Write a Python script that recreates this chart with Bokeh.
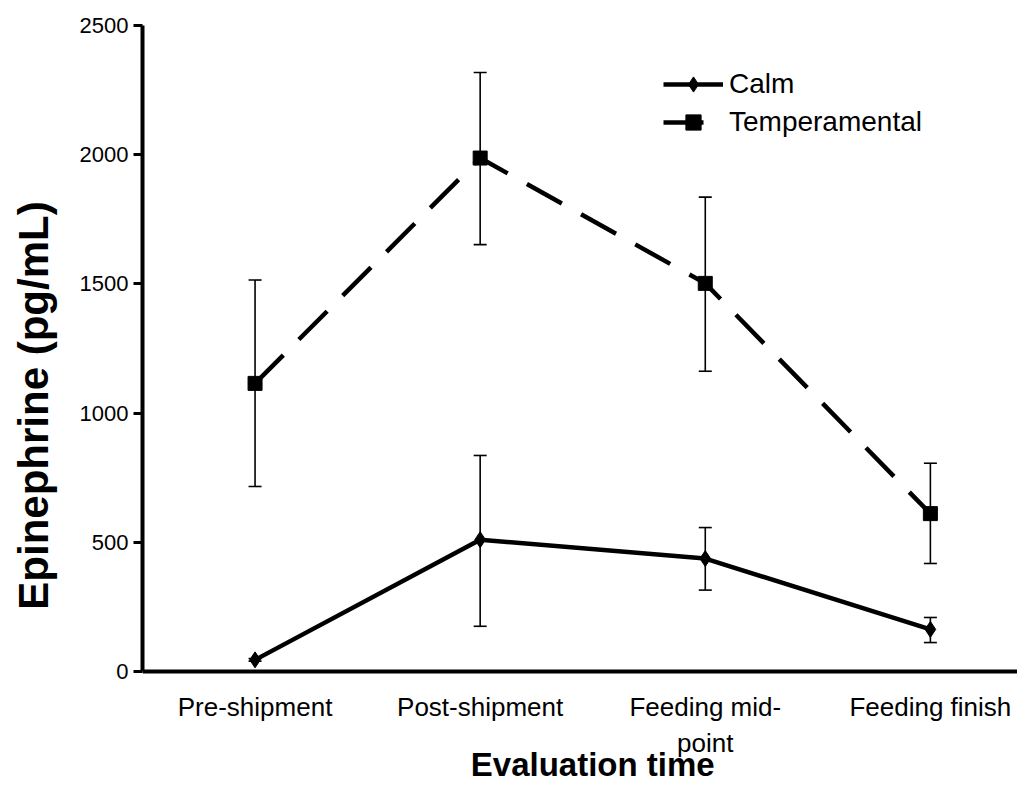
from bokeh.plotting import figure
from bokeh.models import (ColumnDataSource, Whisker, TeeHead, FixedTicker, Legend,
                          LegendItem, Range1d, Label)
from bokeh.embed import file_html
from bokeh.resources import INLINE

categories = ["Pre-shipment", "Post-shipment", "Feeding mid-\npoint", "Feeding finish"]
calm = [45, 510, 437, 163]
calm_lo = [40, 175, 315, 112]
calm_hi = [50, 836, 557, 209]
temp = [1115, 1987, 1502, 611]
temp_lo = [716, 1652, 1162, 418]
temp_hi = [1515, 2318, 1836, 806]
y_ticks = [0, 500, 1000, 1500, 2000, 2500]

xs = list(range(1, len(categories) + 1))
FONT = "Liberation Sans"

# frame: 646 px for 0..2500, extended below 0 to hold the category labels
p = figure(width=1017, height=785, output_backend="svg", toolbar_location=None,
           x_range=Range1d(0.5, 4.387), y_range=Range1d(-441.2, 2500),
           min_border_left=142, min_border_right=0, min_border_top=25,
           min_border_bottom=0)
p.outline_line_color = None
p.grid.visible = False
p.background_fill_color = "white"
p.border_fill_color = "white"

src_c = ColumnDataSource(dict(x=xs, y=calm, lo=calm_lo, hi=calm_hi))
src_t = ColumnDataSource(dict(x=xs, y=temp, lo=temp_lo, hi=temp_hi))

for src in (src_t, src_c):
    w = Whisker(source=src, base="x", lower="lo", upper="hi",
                line_color="black", line_width=1.6,
                lower_head=TeeHead(size=13, line_color="black", line_width=1.6),
                upper_head=TeeHead(size=13, line_color="black", line_width=1.6))
    p.add_layout(w)

lc = p.line("x", "y", source=src_c, line_color="black", line_width=4.5)
mc = p.scatter("x", "y", source=src_c, marker="diamond", size=16, color="black")
lt = p.line("x", "y", source=src_t, line_color="black", line_width=4.5,
            line_dash="40 22")
mt = p.scatter("x", "y", source=src_t, marker="square", size=14, color="black")

legend = Legend(items=[LegendItem(label="Calm", renderers=[lc, mc]),
                       LegendItem(label="Temperamental", renderers=[lt, mt])],
                location=(521, 644), glyph_width=60, glyph_height=38,
                label_standoff=6, spacing=0, padding=0, margin=0,
                border_line_color=None, background_fill_alpha=0,
                label_text_font=FONT, label_text_font_size="28px",
                label_text_color="black", label_text_baseline="middle")
p.add_layout(legend)

# x axis drawn at y = 0
p.xaxis.fixed_location = 0
p.xaxis.ticker = FixedTicker(ticks=xs)
p.xaxis.major_label_overrides = {x: c for x, c in zip(xs, categories)}
p.xaxis.major_tick_line_color = None
p.xaxis.minor_tick_line_color = None
p.xaxis.major_label_standoff = 15
p.xaxis.axis_line_width = 4
p.xaxis.axis_line_color = "black"
p.xaxis.major_label_text_font = FONT
p.xaxis.major_label_text_font_size = "26px"
p.xaxis.major_label_text_color = "black"

# x-axis title, centred on the category span
p.add_layout(Label(x=sum(xs) / len(xs), y=-433, text="Evaluation time",
                   text_align="center", text_baseline="bottom",
                   text_font=FONT, text_font_style="bold",
                   text_font_size="33px", text_color="black"))

p.yaxis.bounds = (0, 2500)
p.yaxis.ticker = FixedTicker(ticks=y_ticks)
p.yaxis.minor_tick_line_color = None
p.yaxis.major_tick_in = 0
p.yaxis.major_tick_out = 9
p.yaxis.major_tick_line_width = 3
p.yaxis.major_tick_line_color = "black"
p.yaxis.axis_line_width = 4
p.yaxis.axis_line_color = "black"
p.yaxis.major_label_standoff = 5
p.yaxis.major_label_text_font = FONT
p.yaxis.major_label_text_font_size = "22px"
p.yaxis.major_label_text_color = "black"
p.yaxis.axis_label = "Epinephrine (pg/mL)"
p.yaxis.axis_label_text_font = FONT
p.yaxis.axis_label_text_font_style = "bold"
p.yaxis.axis_label_text_font_size = "42px"
p.yaxis.axis_label_text_color = "black"
p.yaxis.axis_label_standoff = 20

open("out.html", "w").write(file_html(p, INLINE))
